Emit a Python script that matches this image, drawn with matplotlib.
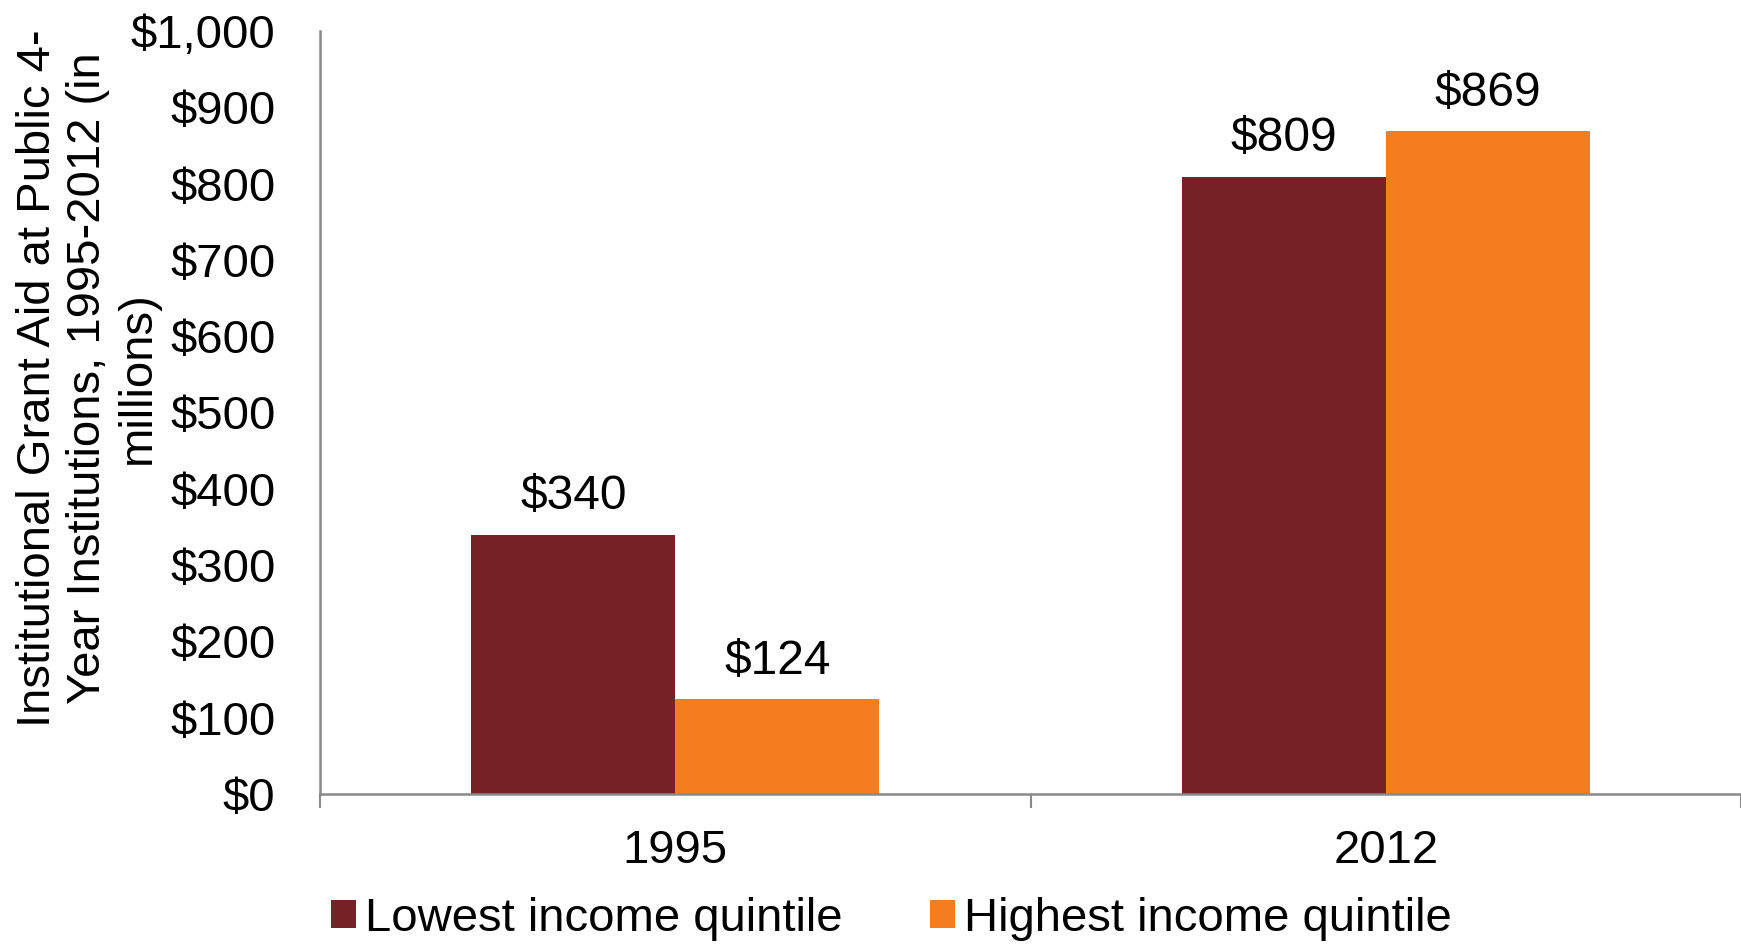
import matplotlib.pyplot as plt
import numpy as np

plt.rcParams['font.family'] = ['Liberation Sans', 'DejaVu Sans']

years = ['1995', '2012']
lowest = [340, 809]
highest = [124, 869]
series_names = ['Lowest income quintile', 'Highest income quintile']
yticks = [0, 100, 200, 300, 400, 500, 600, 700, 800, 900, 1000]

maroon = '#762126'
orange = '#F47D20'
grey = '#898989'

fig = plt.figure(figsize=(17.41, 9.44), dpi=100)
ax = fig.add_axes([320 / 1741, 1 - 794 / 944, 1421 / 1741, (794 - 31) / 944])

x = np.arange(len(years))
w = 0.287
b1 = ax.bar(x - w / 2, lowest, w, color=maroon, label=series_names[0])
b2 = ax.bar(x + w / 2, highest, w, color=orange, label=series_names[1])

for bars, vals in [(b1, lowest), (b2, highest)]:
    for bar, v in zip(bars, vals):
        ax.annotate('$' + str(v), (bar.get_x() + bar.get_width() / 2, v),
                    xytext=(0, 11), textcoords='offset points',
                    ha='center', va='bottom', fontsize=34.5)

ax.set_xlim(-0.5, 1.5)
ax.set_ylim(0, 1000)
ax.set_yticks(yticks)
ax.set_yticklabels(['$' + format(t, ',') for t in yticks], fontsize=34)
ax.tick_params(axis='y', length=0, pad=32)

ax.set_xticks(x)
ax.set_xticklabels(years, fontsize=34)
ax.set_xticks([-0.5, 0.5, 1.5], minor=True)
ax.tick_params(axis='x', which='major', length=0, pad=25)
ax.tick_params(axis='x', which='minor', length=10, width=1.5, color=grey)

for s in ['top', 'right']:
    ax.spines[s].set_visible(False)
for s in ['left', 'bottom']:
    ax.spines[s].set_color(grey)
    ax.spines[s].set_linewidth(1.8)

fig.text(0.009, 1 - 378 / 944,
         'Institutional Grant Aid at Public 4-\nYear Institutions, 1995-2012 (in\nmillions)',
         rotation=90, ha='left', va='center', fontsize=34, multialignment='center',
         linespacing=1.18)

fig.legend(handles=[b1, b2], labels=series_names, loc='center', ncol=2,
           bbox_to_anchor=(0.512, 1 - 919 / 944), frameon=False, fontsize=34,
           handlelength=0.53, handleheight=0.53, handletextpad=0.2, columnspacing=1.85)

fig.savefig('out.png', dpi=100)
